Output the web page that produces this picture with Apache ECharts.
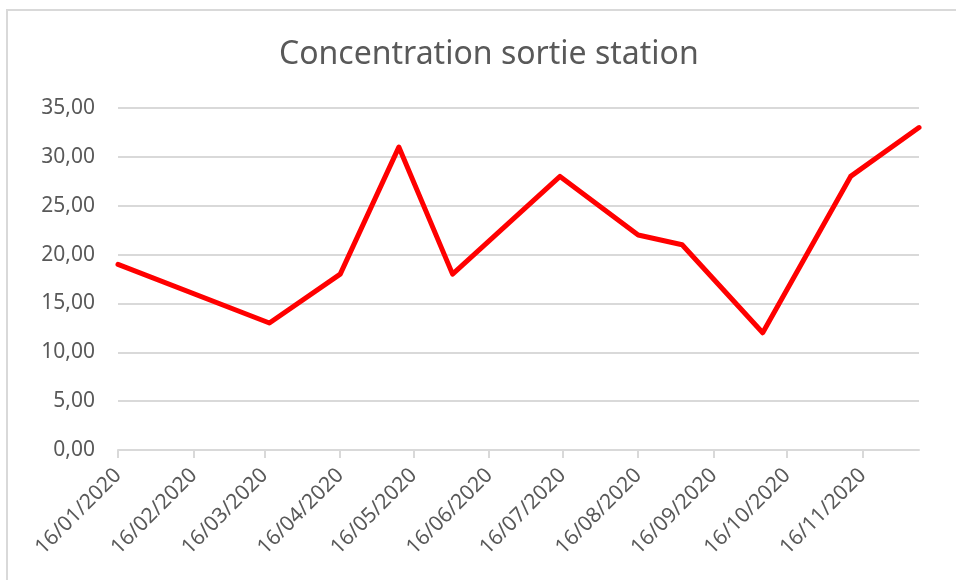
<!DOCTYPE html>
<html>
<head>
<meta charset="utf-8">
<title>Concentration sortie station</title>
<script src="https://cdn.jsdelivr.net/npm/echarts@6/dist/echarts.min.js"></script>
<style>
  html, body { margin: 0; padding: 0; background: #fff; }
  .chart-wrap { position: relative; width: 956px; height: 580px; overflow: hidden; }
  #main { width: 956px; height: 580px; }
  /* cadre gris du graphique (haut + gauche seulement visibles) */
  .chart-frame {
    position: absolute; left: 6px; top: 9px; width: 1000px; height: 1000px;
    border-top: 2px solid #d9d9d9; border-left: 2px solid #d9d9d9;
    pointer-events: none;
  }
</style>
</head>
<body>
<div class="chart-wrap">
  <div id="main"></div>
  <div class="chart-frame"></div>
</div>
<script>
// dates de prélèvement et concentrations
var sampleDates = ['2020-01-16', '2020-03-18', '2020-04-16', '2020-05-10', '2020-06-01', '2020-07-15',
  '2020-08-16', '2020-09-03', '2020-10-06', '2020-11-11', '2020-12-09']
var concentrations = [19, 13, 18, 31, 18, 28, 22, 21, 12, 28, 33]
// graduations de l'axe des dates
var tickDates = ['2020-01-16', '2020-02-16', '2020-03-16', '2020-04-16', '2020-05-16', '2020-06-16',
  '2020-07-16', '2020-08-16', '2020-09-16', '2020-10-16', '2020-11-16']

var toTime = function (s) {
  var p = s.split('-')
  return new Date(+p[0], +p[1] - 1, +p[2]).getTime()
}
var tickValues = tickDates.map(toTime)
var seriesData = sampleDates.map(function (d, i) {
  return [toTime(d), concentrations[i]]
})

var textColor = '#595959'
var gridColor = '#d9d9d9'
var fontFamily = '"Noto Sans", "Open Sans", sans-serif'

var option = {
  animation: false,
  backgroundColor: '#fff',
  title: {
    text: 'Concentration sortie station',
    left: 274,
    top: 34,
    textStyle: {
      fontFamily: fontFamily,
      fontSize: 32,
      fontWeight: 'normal',
      color: textColor
    }
  },
  grid: {
    left: 118,
    right: 37,
    top: 108,
    bottom: 130
  },
  xAxis: {
    // axe des dates en valeur (timestamps), graduations le 16 de chaque mois
    type: 'value',
    min: toTime(sampleDates[0]),
    max: toTime(sampleDates[sampleDates.length - 1]),
    axisLine: {
      show: true,
      lineStyle: { color: gridColor, width: 2 }
    },
    axisTick: {
      show: true,
      length: 8,
      customValues: tickValues,
      lineStyle: { color: gridColor, width: 2 }
    },
    axisLabel: {
      show: true,
      rotate: 45,
      margin: 22,
      customValues: tickValues,
      color: textColor,
      fontFamily: fontFamily,
      fontSize: 21,
      formatter: function (value) {
        var d = new Date(value)
        var dd = ('0' + d.getDate()).slice(-2)
        var mm = ('0' + (d.getMonth() + 1)).slice(-2)
        return dd + '/' + mm + '/' + d.getFullYear()
      }
    },
    splitLine: { show: false }
  },
  yAxis: {
    type: 'value',
    min: 0,
    max: 35,
    interval: 5,
    axisLine: { show: false },
    axisTick: { show: false },
    axisLabel: {
      margin: 23,
      color: textColor,
      fontFamily: fontFamily,
      fontSize: 21,
      formatter: function (v) {
        return v.toFixed(2).replace('.', ',')
      }
    },
    splitLine: {
      show: true,
      lineStyle: { color: gridColor, width: 2 }
    }
  },
  series: [{
    name: 'Concentration sortie station',
    type: 'line',
    data: seriesData,
    showSymbol: false,
    symbol: 'none',
    lineStyle: { color: '#ff0000', width: 5, join: 'round', cap: 'round' },
    itemStyle: { color: '#ff0000' }
  }]
}

var myChart = echarts.init(document.getElementById('main'), null, { renderer: 'canvas' })
myChart.setOption(option)
</script>
</body>
</html>
